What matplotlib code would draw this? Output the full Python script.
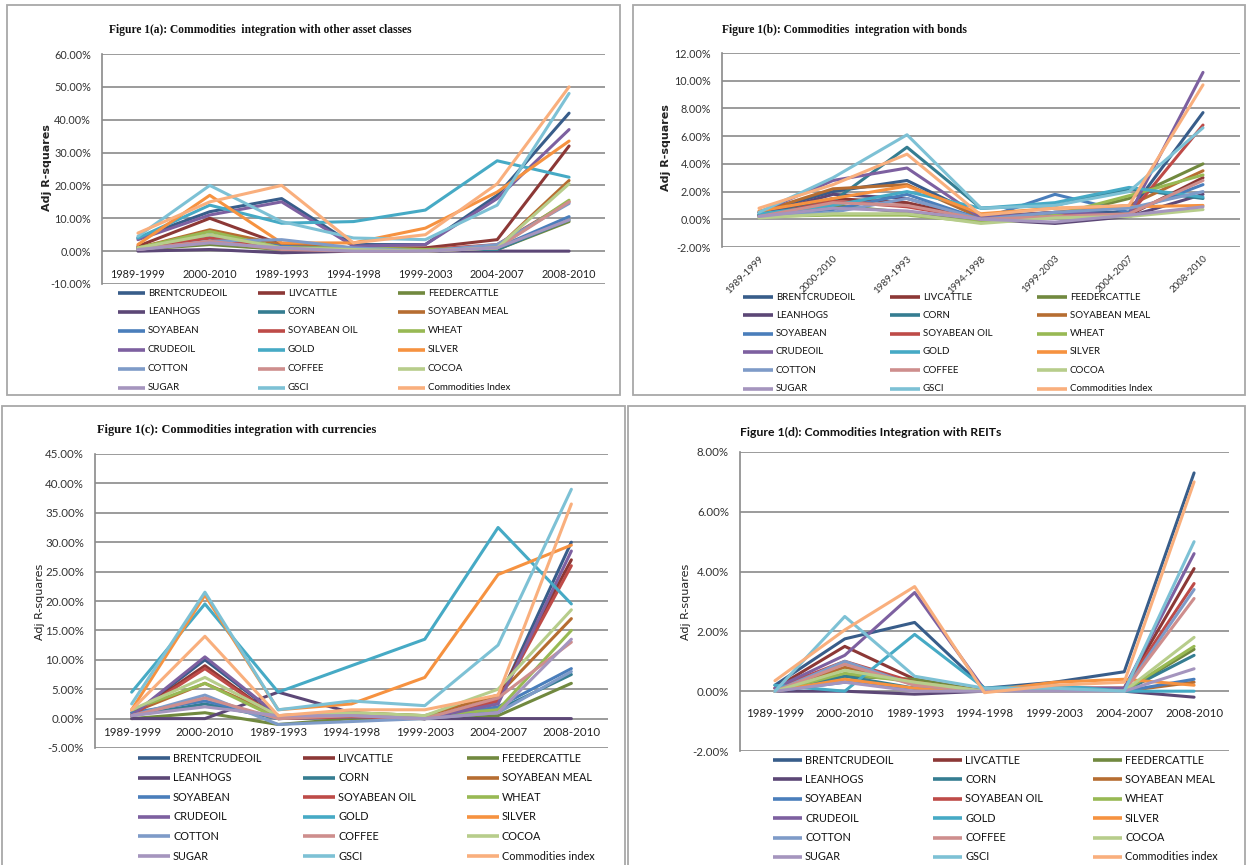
import matplotlib
matplotlib.use("Agg")
import matplotlib.pyplot as plt
from matplotlib.lines import Line2D
from matplotlib.patches import Rectangle
from matplotlib.ticker import FuncFormatter

W, H = 1247, 865

periods = ["1989-1999", "2000-2010", "1989-1993", "1994-1998", "1999-2003", "2004-2007", "2008-2010"]
series = ["BRENTCRUDEOIL", "LIVCATTLE", "FEEDERCATTLE", "LEANHOGS", "CORN", "SOYABEAN MEAL",
          "SOYABEAN", "SOYABEAN OIL", "WHEAT", "CRUDEOIL", "GOLD", "SILVER",
          "COTTON", "COFFEE", "COCOA", "SUGAR", "GSCI", "Commodities index"]
colors = ["#385D8A", "#8C3836", "#71893F", "#5C4776", "#357D91", "#B66D31",
          "#4A7EBB", "#BE4B48", "#98B954", "#7D60A0", "#46AAC5", "#F69240",
          "#7E9BC8", "#CE8E8D", "#B7CD8B", "#A595BE", "#7DC1D5", "#F9AF7D"]

# Adj R-squares (%), one row per series in the order of `series`
values_a = [
    [4.0, 12.0, 16.0, 2.0, 2.0, 17.0, 42.0],
    [1.5, 10.0, 2.0, 1.0, 1.0, 3.5, 32.0],
    [0.5, 2.0, 0.5, 0.5, 0.0, 0.5, 9.0],
    [0.0, 0.5, -0.5, 0.0, 0.0, 0.0, 0.0],
    [1.0, 5.0, 1.0, 0.5, 0.5, 0.5, 9.5],
    [1.0, 6.5, 2.0, 1.0, 0.5, 1.0, 21.5],
    [1.0, 4.0, 1.5, 0.5, 0.5, 1.0, 10.5],
    [1.0, 4.0, 1.0, 0.5, 0.5, 2.0, 15.0],
    [1.0, 6.0, 1.0, 1.0, 0.5, 1.0, 15.5],
    [3.5, 11.0, 15.0, 1.5, 2.0, 16.0, 37.0],
    [4.0, 14.0, 8.5, 9.0, 12.5, 27.5, 22.5],
    [2.0, 17.0, 2.5, 2.5, 7.0, 18.0, 33.5],
    [0.5, 3.0, 3.5, 1.0, 0.0, 2.0, 14.5],
    [0.5, 3.0, 0.5, 0.0, 0.0, 1.0, 15.0],
    [1.0, 5.0, 1.0, 0.5, 0.0, 1.0, 20.5],
    [0.5, 2.5, 1.0, 0.0, 0.0, 1.0, 9.5],
    [4.5, 20.0, 9.0, 4.0, 3.5, 14.0, 48.0],
    [5.5, 15.0, 20.0, 2.5, 5.0, 20.5, 50.0],
]
values_b = [
    [0.5, 2.0, 2.8, 0.2, 0.5, 0.5, 7.7],
    [0.3, 1.5, 1.2, 0.0, 0.3, 0.3, 3.0],
    [0.2, 1.0, 0.5, -0.2, 0.2, 1.5, 4.0],
    [0.3, 1.8, 1.5, 0.0, -0.3, 0.2, 1.8],
    [0.3, 1.3, 5.2, 0.8, 1.0, 2.2, 1.5],
    [0.5, 2.2, 2.5, 0.1, 0.5, 1.0, 3.5],
    [0.3, 0.7, 1.8, 0.0, 1.8, 0.5, 2.5],
    [0.2, 1.3, 0.9, 0.0, 0.3, 0.3, 6.8],
    [0.2, 0.3, 0.3, -0.2, 0.3, 1.7, 3.2],
    [0.5, 2.8, 3.7, 0.1, 0.5, 0.3, 10.6],
    [0.4, 1.0, 2.0, 0.8, 1.2, 2.3, 1.6],
    [0.6, 1.5, 2.4, 0.4, 0.8, 0.9, 1.0],
    [0.2, 0.5, 1.5, 0.0, 0.5, 0.8, 2.0],
    [0.2, 1.2, 1.0, 0.0, 0.2, 0.4, 2.8],
    [0.1, 0.4, 0.4, -0.3, 0.1, 0.2, 0.7],
    [0.2, 0.8, 0.6, 0.0, -0.2, 0.3, 0.9],
    [0.5, 3.0, 6.1, 0.8, 1.0, 2.0, 6.6],
    [0.8, 2.5, 4.7, 0.3, 0.8, 1.0, 9.7],
]
values_c = [
    [0.5, 10.0, 0.5, 0.5, 0.0, 3.0, 30.0],
    [0.5, 9.0, 0.0, 0.5, 0.0, 3.5, 27.0],
    [0.0, 1.0, -1.0, 0.0, 0.0, 0.5, 6.0],
    [0.0, 0.0, 4.5, 1.0, 0.0, 0.0, 0.0],
    [0.5, 2.5, 0.0, 0.3, 0.0, 1.5, 7.5],
    [1.0, 6.0, 0.5, 1.0, 0.5, 4.0, 17.0],
    [1.0, 3.0, 0.0, 0.3, 0.0, 2.0, 8.5],
    [0.5, 8.5, 0.0, 0.3, 0.0, 3.0, 26.0],
    [1.5, 6.0, 0.0, 1.0, 0.5, 1.5, 15.0],
    [0.5, 10.5, 0.5, 1.0, 0.0, 2.5, 28.5],
    [4.5, 19.5, 4.5, 9.0, 13.5, 32.5, 19.5],
    [1.5, 21.0, 1.5, 2.5, 7.0, 24.5, 29.5],
    [0.5, 4.0, -1.0, -0.5, 0.0, 1.0, 8.0],
    [0.5, 3.5, 0.0, 0.5, 0.0, 3.5, 13.0],
    [1.5, 7.0, 0.5, 1.0, 0.5, 5.0, 18.5],
    [0.5, 2.0, 0.5, 0.5, 0.0, 1.0, 13.5],
    [2.5, 21.5, 1.5, 3.0, 2.2, 12.5, 39.0],
    [1.5, 14.0, 0.5, 1.5, 1.5, 4.0, 36.5],
]
values_d = [
    [0.2, 1.75, 2.3, 0.1, 0.3, 0.65, 7.3],
    [0.1, 1.5, 0.4, 0.0, 0.1, 0.1, 4.1],
    [0.0, 0.5, 0.4, 0.0, 0.0, 0.0, 1.4],
    [0.0, 0.0, -0.1, 0.0, 0.0, 0.0, -0.2],
    [0.0, 0.5, 0.1, 0.0, 0.0, 0.0, 1.2],
    [0.0, 0.8, 0.3, 0.0, 0.0, 0.0, 0.3],
    [0.0, 0.3, 0.1, 0.0, 0.0, 0.0, 0.4],
    [0.1, 1.0, 0.3, 0.0, 0.1, 0.1, 3.6],
    [0.0, 0.6, 0.3, 0.0, 0.0, 0.0, 1.5],
    [0.1, 1.2, 3.3, 0.05, 0.1, 0.1, 4.6],
    [0.2, 0.0, 1.9, 0.1, 0.2, 0.0, 0.0],
    [0.0, 0.4, 0.1, 0.0, 0.3, 0.4, 0.2],
    [0.0, 1.0, 0.2, 0.0, 0.0, 0.0, 3.4],
    [0.0, 0.9, 0.2, 0.0, 0.0, 0.0, 3.1],
    [0.0, 0.7, 0.3, 0.0, 0.0, 0.0, 1.8],
    [0.0, 0.3, 0.0, 0.0, 0.0, 0.0, 0.75],
    [0.0, 2.5, 0.5, 0.1, 0.1, 0.0, 5.0],
    [0.35, 2.05, 3.5, -0.05, 0.2, 0.3, 7.0],
]

titles = ["Figure 1(a): Commodities  integration with other asset classes",
          "Figure 1(b): Commodities  integration with bonds",
          "Figure 1(c): Commodities integration with currencies",
          "Figure 1(d): Commodities Integration with REITs"]
index_labels = ["Commodities Index", "Commodities Index", "Commodities index", "Commodities index"]

NARROW = ["Lato", "DejaVu Sans"]
SERIF = ["Liberation Serif", "DejaVu Serif"]
GRID = "#8a8a8a"
BORDER = "#a8a8a8"

fig = plt.figure(figsize=(W / 100, H / 100), dpi=100)
fig.patch.set_facecolor("white")


def fx(x):
    return x / W


def fy(y):
    return 1 - y / H


def add_ax(x0, x1, y0, y1):
    return fig.add_axes([fx(x0), fy(y1), (x1 - x0) / W, (y1 - y0) / H])


# panel borders
for (x0, y0, x1, y1) in [(7, 5, 620, 395), (633, 5, 1245, 395), (2, 406, 625, 870), (628, 406, 1245, 870)]:
    fig.add_artist(Rectangle((fx(x0), fy(y1)), (x1 - x0) / W, (y1 - y0) / H,
                             transform=fig.transFigure, fill=False, edgecolor=BORDER, lw=1.3))

panels = [
    dict(vals=values_a, box=(102, 605, 54, 284), ylim=(-10, 60), step=10, lab_y=-7.0, rot=False,
         title=(109, 30, SERIF, "bold", 8.3), ylab=(47, 168, "bold"), tfs=7.8, xfs=7.8,
         leg=([118, 258, 398], 27, 293, 18.9, 7.0)),
    dict(vals=values_b, box=(722, 1240, 53, 247), ylim=(-2, 12), step=2, lab_y=None, rot=True,
         title=(722, 30, SERIF, "bold", 8.3), ylab=(666, 148, "bold"), tfs=7.8, xfs=7.0,
         leg=([743, 890, 1037], 30, 297, 18.3, 7.0)),
    dict(vals=values_c, box=(95, 608, 454, 748), ylim=(-5, 45), step=5, lab_y=-2.4, rot=False,
         title=(97, 430, SERIF, "bold", 8.8), ylab=(40, 602, "normal"), tfs=8.3, xfs=8.3,
         leg=([138, 303, 467], 32, 758, 19.6, 7.8)),
    dict(vals=values_d, box=(740, 1229, 452, 751), ylim=(-2, 8), step=2, lab_y=-0.74, rot=False,
         title=(740, 432, NARROW, "bold", 8.8), ylab=(686, 602, "normal"), tfs=8.3, xfs=8.3,
         leg=([773, 933, 1093], 29, 760, 19.4, 7.8)),
]

pct = FuncFormatter(lambda v, p: f"{v:.2f}%")

for k, P in enumerate(panels):
    x0, x1, y0, y1 = P["box"]
    ax = add_ax(x0, x1, y0, y1)
    xs = list(range(len(periods)))
    for i, name in enumerate(series):
        ax.plot(xs, P["vals"][i], color=colors[i], lw=2.2, solid_capstyle="round",
                solid_joinstyle="round", zorder=3 + i * 0.01, clip_on=False)
    ax.set_xlim(-0.5, len(periods) - 0.5)
    lo, hi = P["ylim"]
    ax.set_ylim(lo, hi)
    ticks = list(range(lo, hi + 1, P["step"]))
    ax.set_yticks(ticks)
    ax.yaxis.set_major_formatter(pct)
    for t in ticks:
        ax.axhline(t, color=GRID, lw=1.2, zorder=1)
    for s in ["top", "right", "bottom"]:
        ax.spines[s].set_visible(False)
    ax.spines["left"].set_color(GRID)
    ax.spines["left"].set_linewidth(1.2)
    ax.tick_params(axis="y", length=0, pad=8, labelsize=P["tfs"], labelcolor="#333333")
    for lbl in ax.get_yticklabels():
        lbl.set_fontfamily(NARROW)
    if P["rot"]:
        ax.set_xticks(xs)
        ax.set_xticklabels(periods, rotation=45, ha="right", rotation_mode="anchor",
                           fontsize=P["xfs"], family=NARROW, color="#333333")
        ax.tick_params(axis="x", length=0, pad=5)
    else:
        ax.set_xticks([])
        for xi, lab in zip(xs, periods):
            ax.text(xi, P["lab_y"], lab, ha="center", va="center", fontsize=P["xfs"],
                    family=NARROW, color="#222222")
    ax.set_facecolor("none")

    tx, ty, fam, wt, fs = P["title"]
    fig.text(fx(tx), fy(ty), titles[k], ha="left", va="center", family=fam,
             weight=wt, fontsize=fs, color="#111111")
    lx, ly, lw_ = P["ylab"]
    fig.text(fx(lx), fy(ly), "Adj R-squares", rotation=90, ha="center", va="center",
             fontsize=8, weight=lw_, family=["DejaVu Sans"], color="#222222")

    cols, llen, ry0, rdy, lfs = P["leg"]
    for i, name in enumerate(series):
        r, c = divmod(i, 3)
        yy = ry0 + r * rdy
        xa = cols[c]
        fig.add_artist(Line2D([fx(xa), fx(xa + llen)], [fy(yy), fy(yy)], transform=fig.transFigure,
                              color=colors[i], lw=2.6, solid_capstyle="butt"))
        label = index_labels[k] if i == len(series) - 1 else name
        fig.text(fx(xa + llen + 3), fy(yy), label, ha="left", va="center", fontsize=lfs,
                 family=NARROW, color="#111111")

fig.savefig("out.png", dpi=100, facecolor="white")
